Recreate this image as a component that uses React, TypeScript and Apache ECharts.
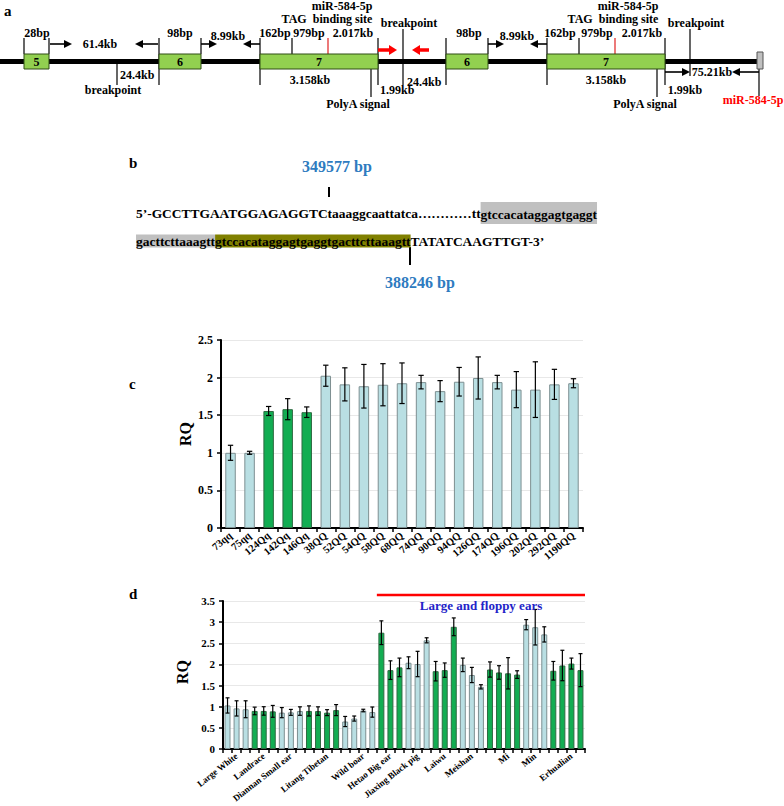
import React, { useEffect, useRef } from "react";
import * as echarts from "echarts";

// ---------- data ----------
const cCategories = ["73qq", "75qq", "124Qq", "142Qq", "146Qq", "38QQ", "52QQ", "54QQ", "58QQ", "68QQ", "74QQ", "90QQ", "94QQ", "126QQ", "174QQ", "196QQ", "202QQ", "292QQ", "1190QQ"];
const cValues = [1.0, 1.0, 1.556, 1.58, 1.54, 2.025, 1.91, 1.885, 1.905, 1.925, 1.94, 1.82, 1.945, 1.995, 1.94, 1.84, 1.84, 1.91, 1.925];
const cErrors = [0.1, 0.02, 0.06, 0.14, 0.07, 0.14, 0.22, 0.29, 0.28, 0.27, 0.09, 0.14, 0.19, 0.28, 0.09, 0.24, 0.37, 0.2, 0.06];

const dGroupNames = ["Large White", "Landrace", "Diannan Small ear", "Litang Tibetan", "Wild boar", "Hetao Big ear", "Jiaxing Black pig", "Laiwu", "Meishan", "Mi", "Min", "Erhualian"];
const dGroupSizes = [3, 3, 3, 4, 4, 3, 3, 3, 3, 4, 3, 4];
const dValues = [1.03, 0.96, 0.94, 0.9, 0.9, 0.89, 0.86, 0.866, 0.897, 0.9, 0.897, 0.86, 0.92, 0.65, 0.72, 0.91, 0.873, 2.75, 1.865, 1.93, 2.04, 2.01, 2.57, 1.84, 1.865, 2.89, 1.99, 1.75, 1.47, 1.88, 1.81, 1.79, 1.76, 2.94, 2.88, 2.71, 1.85, 1.975, 2.02, 1.865];
const dErrors = [0.18, 0.18, 0.2, 0.09, 0.1, 0.14, 0.12, 0.07, 0.1, 0.12, 0.1, 0.07, 0.13, 0.12, 0.06, 0.03, 0.12, 0.28, 0.22, 0.22, 0.14, 0.3, 0.06, 0.23, 0.17, 0.21, 0.16, 0.18, 0.05, 0.18, 0.16, 0.37, 0.09, 0.12, 0.42, 0.18, 0.22, 0.36, 0.13, 0.39];
const floppyFromGroup = 5; // "Large and floppy ears" starts at Hetao Big ear

const seqLine1Plain = "5’-GCCTTGAATGGAGAGGTCtaaaggcaattatca…………tt";
const seqLine1Gray = "gtccacataggagtgaggt";
const seqLine2Gray = "gacttcttaaagtt";
const seqLine2Olive = "gtccacataggagtgaggtgacttcttaaagtt";
const seqLine2Plain = "TATATCAAGTTGT-3’";
const bp1 = "349577 bp";
const bp2 = "388246 bp";

// ---------- styling ----------
const FONT = '"Liberation Serif", "Times New Roman", serif';
const LIGHT = "#b9dfe3";
const GREEN = "#12ad52";
const EXON = "#92d050";
const BLUE = "#2e7bc0";
const SEQ_FS = 13.45;

function txt(x: number, y: number, text: string, size = 12, color = "#000", align = "center", extra: any = {}) {
  return {
    type: "text",
    x,
    y,
    z: 10,
    style: { text, fill: color, font: `bold ${size}px ${FONT}`, textAlign: align, verticalAlign: "middle", ...extra },
  };
}
function ln(x1: number, y1: number, x2: number, y2: number, color = "#000", w = 1.2) {
  return { type: "line", shape: { x1, y1, x2, y2 }, style: { stroke: color, lineWidth: w }, z: 5 };
}
function arrow(tail: number, head: number, y: number, color = "#000", w = 1.6, hl = 8, hw = 4) {
  const dir = head > tail ? 1 : -1;
  return [
    ln(tail, y, head - dir * hl, y, color, w),
    { type: "polygon", z: 6, shape: { points: [[head, y], [head - dir * hl, y - hw], [head - dir * hl, y + hw]] }, style: { fill: color } },
  ];
}
function exon(x: number, w: number, label: string) {
  return [
    { type: "rect", z: 7, shape: { x, y: 54, width: w, height: 15 }, style: { fill: EXON, stroke: "#2f4d15", lineWidth: 1 } },
    txt(x + w / 2, 62, label, 12),
  ];
}

function panelA(): any[] {
  const g: any[] = [];
  g.push(txt(4, 11, "a", 15, "#000", "left"));
  g.push({ type: "rect", z: 4, shape: { x: 0, y: 59, width: 757, height: 5 }, style: { fill: "#000" } });
  g.push(...exon(24, 25, "5"), ...exon(159, 42, "6"), ...exon(260, 118, "7"), ...exon(446, 42, "6"), ...exon(547, 118, "7"));
  g.push({ type: "rect", z: 7, shape: { x: 757, y: 52, width: 6, height: 17 }, style: { fill: "#c0c0c0", stroke: "#555", lineWidth: 1 } });
  // vertical markers
  [[24, 38, 54], [49, 38, 54], [159, 38, 85], [201, 38, 54], [260, 38, 85], [292, 38, 54], [378, 38, 85],
   [446, 38, 85], [488, 38, 54], [547, 38, 85], [579, 38, 54], [665, 38, 85],
   [117, 61, 85], [403, 29, 85], [690, 29, 76], [371, 69, 97], [657, 69, 97], [759, 69, 96]].forEach(([x, a, b]) => g.push(ln(x, a, x, b)));
  g.push(ln(328, 38, 328, 54, "#e02020"), ln(615, 38, 615, 54, "#e02020"));
  // arrows
  g.push(...arrow(50, 72, 44), ...arrow(158, 135, 44), ...arrow(201, 217, 44), ...arrow(260, 243, 44));
  g.push(...arrow(488, 504, 44), ...arrow(547, 530, 44));
  g.push(...arrow(665, 690, 72), ...arrow(759, 732, 72));
  g.push(...arrow(378, 397, 50, "#ff0000", 3.5, 8, 5), ...arrow(429, 412, 50, "#ff0000", 3.5, 8, 5));
  // texts
  g.push(txt(37, 33, "28bp"), txt(100, 44, "61.4kb"), txt(180, 33, "98bp"), txt(228, 36, "8.99kb"));
  g.push(txt(275, 33, "162bp"), txt(309, 33, "979bp"), txt(353, 33, "2.017kb"), txt(327, 19, "TAG  binding site"), txt(342, 6, "miR-584-5p"));
  g.push(txt(120, 75, "24.4kb", 12, "#000", "left"), txt(113, 90, "breakpoint"), txt(310, 80, "3.158kb"), txt(358, 104, "PolyA signal"), txt(380, 90, "1.99kb", 12, "#000", "left"));
  g.push(txt(409, 23, "breakpoint"), txt(407, 82, "24.4kb", 12, "#000", "left"), txt(469, 33, "98bp"), txt(517, 36, "8.99kb"));
  g.push(txt(560, 33, "162bp"), txt(597, 33, "979bp"), txt(642, 33, "2.017kb"), txt(613, 19, "TAG  binding site"), txt(628, 6, "miR-584-5p"));
  g.push(txt(606, 80, "3.158kb"), txt(645, 104, "PolyA signal"), txt(696, 23, "breakpoint"), txt(712, 72, "75.21kb"), txt(685, 90, "1.99kb"));
  g.push(txt(753, 100, "miR-584-5p", 12, "#ff0000"));
  return g;
}

function panelB(): any[] {
  const g: any[] = [];
  g.push(txt(129, 163, "b", 15, "#000", "left"));
  g.push(txt(337, 166, bp1, 16, BLUE));
  g.push(ln(329, 187, 329, 197, "#000", 2));
  const base = { fill: "#000", fontWeight: "bold", fontSize: SEQ_FS, fontFamily: FONT };
  g.push({
    type: "text", x: 136, y: 213, z: 10,
    style: {
      text: `{p|${seqLine1Plain}}{g|${seqLine1Gray}}`,
      verticalAlign: "middle", textAlign: "left",
      rich: {
        p: { ...base },
        g: { ...base, backgroundColor: "#c0c0c0", padding: [6, 0, 3, 0] },
      },
    },
  });
  g.push({
    type: "text", x: 136, y: 241, z: 10,
    style: {
      text: `{g|${seqLine2Gray}}{o|${seqLine2Olive}}{p|${seqLine2Plain}}`,
      verticalAlign: "middle", textAlign: "left",
      rich: {
        p: { ...base },
        g: { ...base, backgroundColor: "#c0c0c0" },
        o: { ...base, backgroundColor: "#808000" },
      },
    },
  });
  g.push(ln(410, 247, 410, 265, "#000", 2));
  g.push(txt(420, 282, bp2, 16, BLUE));
  return g;
}

function errorSeries(xi: number, vals: number[], errs: number[], capFrac: number) {
  return {
    type: "custom",
    xAxisIndex: xi,
    yAxisIndex: xi,
    z: 5,
    silent: true,
    data: vals.map((v, i) => [i, v, errs[i]]),
    renderItem: (params: any, api: any) => {
      const i = api.value(0), v = api.value(1), e = api.value(2);
      const top = api.coord([i, v + e]);
      const bot = api.coord([i, v - e]);
      const hw = api.size([1, 0])[0] * capFrac;
      const st = { stroke: "#000", lineWidth: 1.2 };
      return {
        type: "group",
        children: [
          { type: "line", shape: { x1: top[0], y1: top[1], x2: bot[0], y2: bot[1] }, style: st },
          { type: "line", shape: { x1: top[0] - hw, y1: top[1], x2: top[0] + hw, y2: top[1] }, style: st },
          { type: "line", shape: { x1: bot[0] - hw, y1: bot[1], x2: bot[0] + hw, y2: bot[1] }, style: st },
        ],
      };
    },
  };
}

export default function App() {
  const ref = useRef<HTMLDivElement>(null);
  useEffect(() => {
    if (!ref.current) return;
    const chart = echarts.init(ref.current, undefined, { renderer: "svg" });

    // panel d categories
    const dCats: string[] = [];
    const dColors: string[] = [];
    dGroupSizes.forEach((n, gi) => {
      for (let k = 0; k < n; k++) {
        dCats.push(k === Math.floor(n / 2) ? dGroupNames[gi] : "");
        dColors.push(gi % 2 === 0 ? LIGHT : GREEN);
      }
    });
    const cColors = cCategories.map((c) => (/Qq$/.test(c) ? GREEN : LIGHT));
    const floppyStart = dGroupSizes.slice(0, floppyFromGroup).reduce((a, b) => a + b, 0);

    const axisCommon = {
      axisLine: { show: true, lineStyle: { color: "#000", width: 2 } },
      axisTick: { show: true, length: 4, lineStyle: { color: "#000", width: 1.5 } },
    };
    const yAxisBase = (max: number, fs: number) => ({
      type: "value",
      min: 0,
      max,
      interval: 0.5,
      ...axisCommon,
      splitLine: { show: true, lineStyle: { color: "#e8e8e8", width: 1 } },
      axisLabel: { color: "#000", fontSize: fs, fontWeight: "bold", fontFamily: FONT, margin: 8 },
    });

    const baseGraphic = [
      ...panelA(),
      ...panelB(),
      txt(129, 384, "c", 15, "#000", "left"),
      { ...txt(185, 434, "RQ", 16), rotation: Math.PI / 2 },
      txt(129, 594, "d", 15, "#000", "left"),
      { ...txt(182, 672, "RQ", 16), rotation: Math.PI / 2 },
      txt(481, 605, "Large and floppy ears", 13, "#2323c8"),
    ];

    const option: any = {
      animation: false,
      backgroundColor: "#fff",
      grid: [
        { left: 221, top: 340, width: 362, height: 188 },
        { left: 223, top: 601, width: 362, height: 148 },
      ],
      xAxis: [
        {
          type: "category", gridIndex: 0, data: cCategories, ...axisCommon,
          axisLabel: { interval: 0, rotate: 40, color: "#000", fontSize: 10.5, fontWeight: "bold", fontFamily: FONT, margin: 6 },
        },
        {
          type: "category", gridIndex: 1, data: dCats, ...axisCommon,
          axisLabel: { interval: 0, rotate: 38, color: "#000", fontSize: 9, fontWeight: "bold", fontFamily: FONT, margin: 6 },
        },
      ],
      yAxis: [
        { gridIndex: 0, ...yAxisBase(2.5, 12) },
        { gridIndex: 1, ...yAxisBase(3.5, 11) },
      ],
      series: [
        {
          type: "bar", xAxisIndex: 0, yAxisIndex: 0, barWidth: "55%",
          data: cValues.map((v, i) => ({ value: v, itemStyle: { color: cColors[i], borderColor: cColors[i] === GREEN ? "#2f6a42" : "#7d8f91", borderWidth: 1 } })),
        },
        errorSeries(0, cValues, cErrors, 0.14),
        {
          type: "bar", xAxisIndex: 1, yAxisIndex: 1, barWidth: "66%",
          data: dValues.map((v, i) => ({ value: v, itemStyle: { color: dColors[i], borderColor: dColors[i] === GREEN ? "#2f6a42" : "#7d8f91", borderWidth: 1 } })),
        },
        errorSeries(1, dValues, dErrors, 0.22),
      ],
      graphic: baseGraphic,
    };
    chart.setOption(option);

    // red line over the "large and floppy ears" breeds, placed through the axis scale
    const x0 = chart.convertToPixel({ xAxisIndex: 1 }, floppyStart) as number;
    const bw = (chart.convertToPixel({ xAxisIndex: 1 }, 1) as number) - (chart.convertToPixel({ xAxisIndex: 1 }, 0) as number);
    const y35 = chart.convertToPixel({ yAxisIndex: 1 }, 3.5) as number;
    chart.setOption({
      graphic: [
        ...baseGraphic,
        ln(x0 - bw / 2, y35 - 6, x0 + (dValues.length - floppyStart) * bw - bw / 2, y35 - 6, "#ff0000", 2.5),
      ],
    }, { replaceMerge: ["graphic"] });

    return () => chart.dispose();
  }, []);
  return <div ref={ref} style={{ position: "absolute", left: 0, top: 0, width: 784, height: 806, background: "#fff" }} />;
}
